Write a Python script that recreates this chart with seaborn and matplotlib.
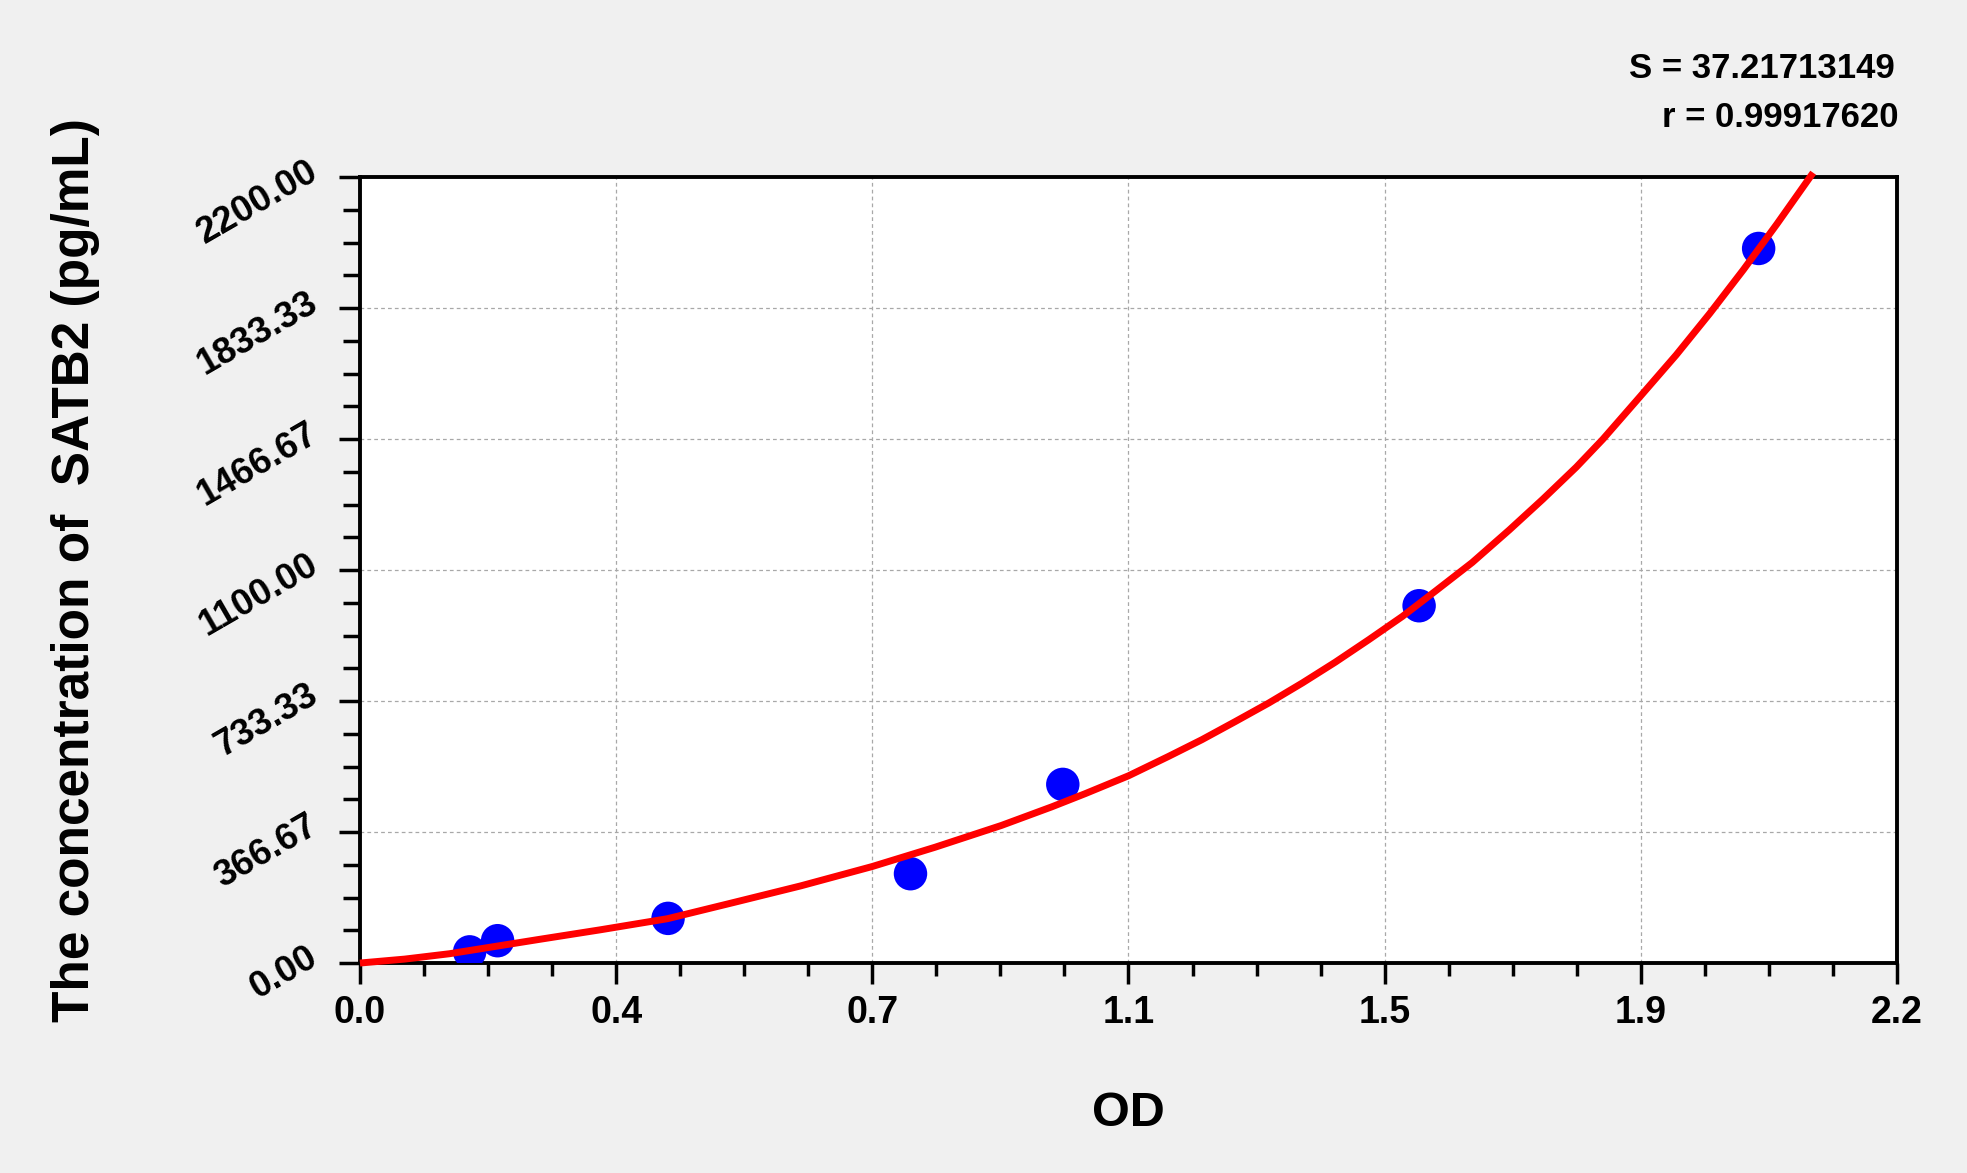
import matplotlib
matplotlib.use("Agg")
import numpy as np
import pandas as pd
import matplotlib.pyplot as plt
import seaborn as sns
from matplotlib.ticker import AutoMinorLocator

# standard points (OD, concentration pg/mL)
od = [0.157, 0.197, 0.441, 0.788, 1.006, 1.516, 2.002]
conc = [31.25, 62.5, 125, 250, 500, 1000, 2000]

# fitted curve
curve_od = [0.0, 0.064, 0.128, 0.192, 0.256, 0.344, 0.440, 0.536, 0.631, 0.733,
            0.823, 0.918, 0.990, 1.038, 1.100, 1.157, 1.205, 1.253, 1.301, 1.349,
            1.396, 1.444, 1.492, 1.540, 1.592, 1.645, 1.693, 1.741, 1.779, 1.833,
            1.884, 1.932, 1.980, 2.028, 2.080]
curve_conc = [0, 11, 26, 46, 66, 93, 124, 170, 216, 270,
              324, 385, 437, 474, 524, 578, 625, 676, 728, 784,
              842, 905, 970, 1042, 1121, 1212, 1298, 1388, 1466, 1587,
              1702, 1818, 1940, 2068, 2212]

x_tick_labels = ["0.0", "0.4", "0.7", "1.1", "1.5", "1.9", "2.2"]
y_tick_labels = ["0.00", "366.67", "733.33", "1100.00", "1466.67", "1833.33", "2200.00"]
x_max = 2.2
y_max = 2200

stats_text = ["S = 37.21713149", "r = 0.99917620"]

sns.set_style("ticks")
plt.rcParams["font.family"] = ["Liberation Sans", "DejaVu Sans"]
plt.rcParams["font.weight"] = "bold"
plt.rcParams["text.color"] = "black"
plt.rcParams["axes.labelcolor"] = "black"
plt.rcParams["xtick.color"] = "black"
plt.rcParams["ytick.color"] = "black"

fig = plt.figure(figsize=(19.67, 11.73), dpi=100, facecolor="#f0f0f0")
ax = fig.add_axes([0.1830, 0.1790, 0.7814, 0.6701])
ax.set_facecolor("white")

points = pd.DataFrame({"OD": od, "conc": conc})
curve = pd.DataFrame({"OD": curve_od, "conc": curve_conc})

sns.scatterplot(data=points, x="OD", y="conc", ax=ax, color="#0000ff",
                s=580, edgecolor="none", zorder=3, legend=False)
sns.lineplot(data=curve, x="OD", y="conc", ax=ax, color="#ff0000",
             linewidth=5, estimator=None, sort=False, zorder=4)
for line in ax.lines:
    line.set_clip_on(False)
    line.set_solid_joinstyle("round")
    line.set_solid_capstyle("butt")

ax.set_xlim(0, x_max)
ax.set_ylim(0, y_max)

ax.set_xticks(np.linspace(0, x_max, len(x_tick_labels)), x_tick_labels)
ax.set_yticks(np.linspace(0, y_max, len(y_tick_labels)), y_tick_labels,
              rotation=30, ha="right", va="baseline", rotation_mode="anchor")
ax.xaxis.set_minor_locator(AutoMinorLocator(4))
ax.yaxis.set_minor_locator(AutoMinorLocator(4))

ax.tick_params(axis="both", which="major", length=15, width=2.5, color="black",
               labelcolor="black")
ax.tick_params(axis="x", which="major", pad=8, labelsize=27)
ax.tick_params(axis="y", which="major", pad=14, labelsize=26.5)
ax.tick_params(axis="x", which="minor", length=9.5, width=2.5, color="black")
ax.tick_params(axis="y", which="minor", length=12, width=2.5, color="black")
for lab in ax.get_xticklabels() + ax.get_yticklabels():
    lab.set_fontweight("bold")

for side in ["left", "right", "top", "bottom"]:
    ax.spines[side].set_visible(True)
    ax.spines[side].set_color("black")
    ax.spines[side].set_linewidth(2.8)

ax.grid(True, which="major", color="#a8a8a8", linestyle=(0, (3, 2.5)), linewidth=0.9)
ax.set_axisbelow(True)

ax.set_xlabel("OD", fontsize=35, fontweight="bold")
ax.set_ylabel("The concentration of  SATB2 (pg/mL)", fontsize=37, fontweight="bold")
ax.xaxis.set_label_coords(0.5, -0.163)
ax.yaxis.set_label_coords(-0.169, 0.5)

fig.text(1895 / 1967, 1 - 78 / 1173, stats_text[0], ha="right", va="baseline",
         fontsize=25, fontweight="bold")
fig.text(1898 / 1967, 1 - 127 / 1173, stats_text[1], ha="right", va="baseline",
         fontsize=25, fontweight="bold")

fig.savefig("out.png", dpi=100, facecolor=fig.get_facecolor())
